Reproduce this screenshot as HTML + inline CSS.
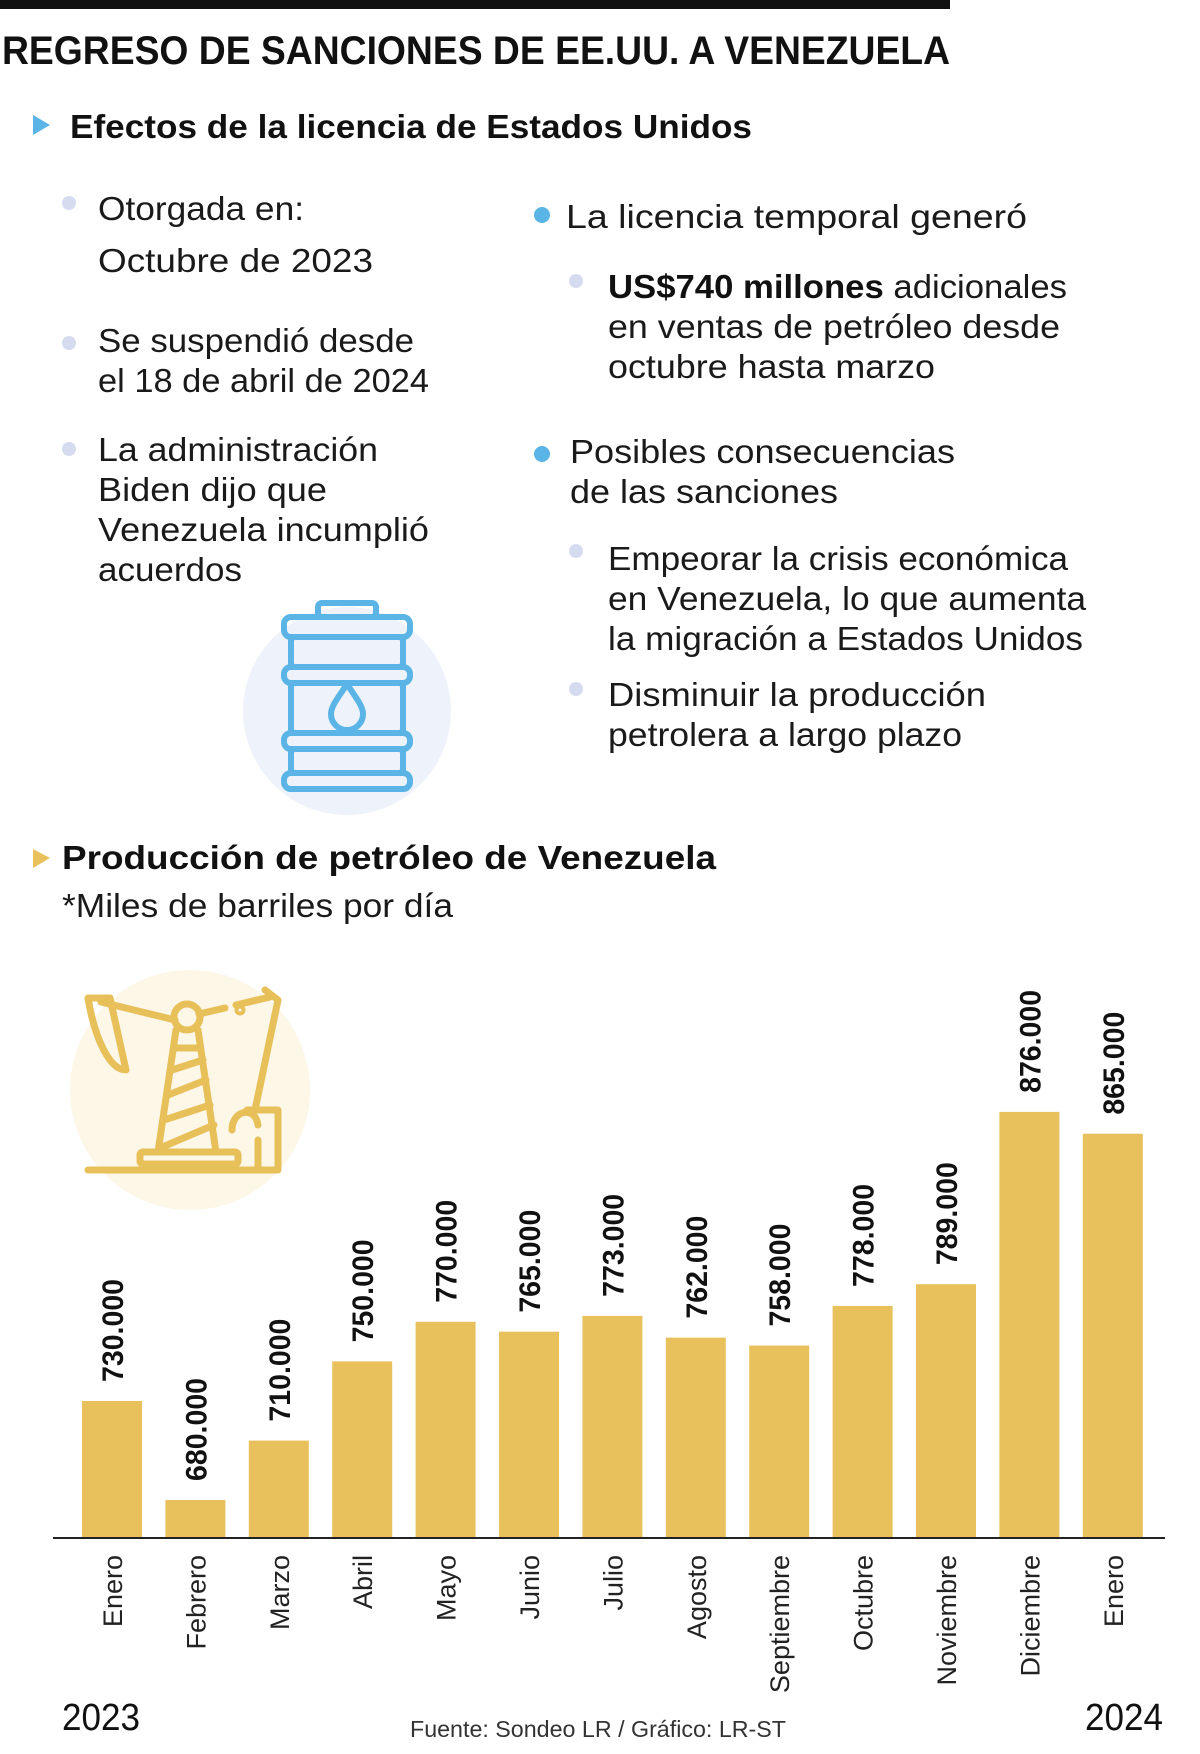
<!DOCTYPE html>
<html><head><meta charset="utf-8"><style>
html,body{margin:0;padding:0;background:#fff}
svg{display:block}
text{font-family:"Liberation Sans",sans-serif}
.b{fill:#1a1a1a;font-size:33px}
.bb{fill:#111;font-size:33px;font-weight:bold}
</style></head><body>
<svg id="page" width="1200" height="1754" viewBox="0 0 1200 1754" xmlns="http://www.w3.org/2000/svg">
<rect x="0" y="0" width="950" height="9" fill="#111"/>
<text x="2" y="64" font-size="40" font-weight="bold" fill="#111" textLength="948" lengthAdjust="spacingAndGlyphs">REGRESO DE SANCIONES DE EE.UU. A VENEZUELA</text>

<polygon points="33,115 50,125 33,135" fill="#5ab4e5"/>
<text x="70" y="138" class="bb" font-size="34" textLength="682" lengthAdjust="spacingAndGlyphs">Efectos de la licencia de Estados Unidos</text>

<g>
<circle cx="69" cy="203" r="7" fill="#d5dcef"/>
<text x="98" y="220" class="b" textLength="206" lengthAdjust="spacingAndGlyphs">Otorgada en:</text>
<text x="98" y="272" class="b" fill="#111" textLength="275" lengthAdjust="spacingAndGlyphs">Octubre de 2023</text>
<circle cx="69" cy="343" r="7" fill="#d5dcef"/>
<text x="98" y="352" class="b" textLength="316" lengthAdjust="spacingAndGlyphs">Se suspendió desde</text>
<text x="98" y="392" class="b" textLength="331" lengthAdjust="spacingAndGlyphs">el 18 de abril de 2024</text>
<circle cx="69" cy="449" r="7" fill="#d5dcef"/>
<text x="98" y="461" class="b" textLength="280" lengthAdjust="spacingAndGlyphs">La administración</text>
<text x="98" y="501" class="b" textLength="229" lengthAdjust="spacingAndGlyphs">Biden dijo que</text>
<text x="98" y="541" class="b" textLength="331" lengthAdjust="spacingAndGlyphs">Venezuela incumplió</text>
<text x="98" y="581" class="b" textLength="144" lengthAdjust="spacingAndGlyphs">acuerdos</text>
</g>

<g>
<circle cx="542" cy="215" r="8" fill="#5ab4e5"/>
<text x="566" y="228" class="b" font-size="35" textLength="461" lengthAdjust="spacingAndGlyphs">La licencia temporal generó</text>
<circle cx="576" cy="281" r="7" fill="#d5dcef"/>
<text x="608" y="298" class="b" textLength="459" lengthAdjust="spacingAndGlyphs"><tspan font-weight="bold" fill="#111">US$740 millones</tspan> adicionales</text>
<text x="608" y="338" class="b" textLength="452" lengthAdjust="spacingAndGlyphs">en ventas de petróleo desde</text>
<text x="608" y="378" class="b" textLength="327" lengthAdjust="spacingAndGlyphs">octubre hasta marzo</text>
<circle cx="542" cy="454" r="8" fill="#5ab4e5"/>
<text x="570" y="463" class="b" font-size="35" textLength="385" lengthAdjust="spacingAndGlyphs">Posibles consecuencias</text>
<text x="570" y="503" class="b" font-size="35" textLength="268" lengthAdjust="spacingAndGlyphs">de las sanciones</text>
<circle cx="576" cy="551" r="7" fill="#d5dcef"/>
<text x="608" y="570" class="b" textLength="460" lengthAdjust="spacingAndGlyphs">Empeorar la crisis económica</text>
<text x="608" y="610" class="b" textLength="478" lengthAdjust="spacingAndGlyphs">en Venezuela, lo que aumenta</text>
<text x="608" y="650" class="b" textLength="475" lengthAdjust="spacingAndGlyphs">la migración a Estados Unidos</text>
<circle cx="576" cy="689" r="7" fill="#d5dcef"/>
<text x="608" y="706" class="b" textLength="378" lengthAdjust="spacingAndGlyphs">Disminuir la producción</text>
<text x="608" y="746" class="b" textLength="354" lengthAdjust="spacingAndGlyphs">petrolera a largo plazo</text>
</g>

<g>
<circle cx="347" cy="711" r="104" fill="#eef3fb"/>
<g fill="none" stroke="#5ab4e5" stroke-width="6" stroke-linejoin="round" stroke-linecap="round">
<rect x="318" y="603" width="58" height="14" rx="4"/>
<rect x="284" y="617" width="126" height="20" rx="7"/>
<rect x="291" y="637" width="112" height="30" rx="4"/>
<rect x="284" y="667" width="126" height="16" rx="7"/>
<rect x="291" y="683" width="112" height="50" rx="4"/>
<rect x="284" y="733" width="126" height="16" rx="7"/>
<rect x="291" y="749" width="112" height="24" rx="4"/>
<rect x="284" y="773" width="126" height="16" rx="7"/>
<path d="M347,684 C338,698 331,706 331,714 A16,16 0 0 0 363,714 C363,706 356,698 347,684 Z"/>
</g>
</g>

<polygon points="33,849 50,858 33,868" fill="#e9c15c"/>
<text x="62" y="869" class="bb" font-size="34" textLength="654" lengthAdjust="spacingAndGlyphs">Producción de petróleo de Venezuela</text>
<text x="62" y="917" class="b" textLength="391" lengthAdjust="spacingAndGlyphs">*Miles de barriles por día</text>

<g>
<circle cx="190" cy="1090" r="120" fill="#fdf7e8"/>
<g fill="none" stroke="#e8c05a" stroke-width="7" stroke-linejoin="round" stroke-linecap="round">
<path d="M88,1170 L278,1170"/>
<rect x="140" y="1152" width="98" height="12" rx="3"/>
<path d="M176,1030 L158,1152 M198,1030 L216,1152"/>
<path d="M176,1048 L200,1048 M172,1070 L203,1060 M168,1095 L206,1080 M164,1120 L210,1105 M160,1148 L214,1125"/>
<circle cx="187" cy="1017" r="13"/>
<path d="M101,1002 L175,1020 M199,1014 L225,1008 M236,1005 L270,997"/>
<path d="M88,998 L110,998 L126,1070 C110,1070 95,1040 88,998 Z"/>
<path d="M265,990 L278,1000 L255,1110"/>
<path d="M247,1110 L278,1110 L278,1168 M232,1130 C232,1110 255,1105 258,1125 M258,1140 L258,1168"/>
<circle cx="240" cy="1010" r="2"/>
</g>
</g>

<g id="chart"></g>

<text x="62" y="1730" font-size="38" fill="#111" textLength="78" lengthAdjust="spacingAndGlyphs">2023</text>
<text x="1085" y="1730" font-size="38" fill="#111" textLength="78" lengthAdjust="spacingAndGlyphs">2024</text>
<text x="410" y="1737" font-size="23" fill="#333" textLength="376" lengthAdjust="spacingAndGlyphs">Fuente: Sondeo LR  / Gráfico: LR-ST</text>
</svg>
<script>
const months = ["Enero","Febrero","Marzo","Abril","Mayo","Junio","Julio","Agosto","Septiembre","Octubre","Noviembre","Diciembre","Enero"];
const values = [730,680,710,750,770,765,773,762,758,778,789,876,865];
const valueLabels = ["730.000","680.000","710.000","750.000","770.000","765.000","773.000","762.000","758.000","778.000","789.000","876.000","865.000"];

const NS = "http://www.w3.org/2000/svg";
const g = document.getElementById("chart");
const baseY = 1538, yMin = 660.8, kPx = 1.98;
const x0 = 82, pitch = 83.4, bw = 60;
function xScale(i){ return x0 + i * pitch; }
function yScale(v){ return baseY - (v - yMin) * kPx; }

values.forEach((v, i) => {
  const x = xScale(i), top = yScale(v), cx = x + bw / 2;
  const r = document.createElementNS(NS, "rect");
  
  
  r.setAttribute("x", x); r.setAttribute("y", top);
  r.setAttribute("width", bw); r.setAttribute("height", baseY - top);
  r.setAttribute("fill", "#e9c15c");
  g.appendChild(r);

  const t = document.createElementNS(NS, "text");
  
  
  t.setAttribute("transform", `translate(${cx + 11},${top - 19}) rotate(-90)`);
  t.setAttribute("font-size", "30"); t.setAttribute("font-weight", "bold");
  t.setAttribute("fill", "#111");
  t.setAttribute("textLength", "103"); t.setAttribute("lengthAdjust", "spacingAndGlyphs");
  t.textContent = valueLabels[i];
  g.appendChild(t);

  const m = document.createElementNS(NS, "text");
  
  
  m.setAttribute("transform", `translate(${cx + 10},1555) rotate(-90)`);
  m.setAttribute("font-size", "27"); m.setAttribute("fill", "#222");
  m.setAttribute("text-anchor", "end");
  m.textContent = months[i];
  g.appendChild(m);
});
const ax = document.createElementNS(NS, "line");


ax.setAttribute("x1", 53); ax.setAttribute("x2", 1165);
ax.setAttribute("y1", baseY); ax.setAttribute("y2", baseY);
ax.setAttribute("stroke", "#222"); ax.setAttribute("stroke-width", "2");
g.appendChild(ax);
</script>
</body></html>
